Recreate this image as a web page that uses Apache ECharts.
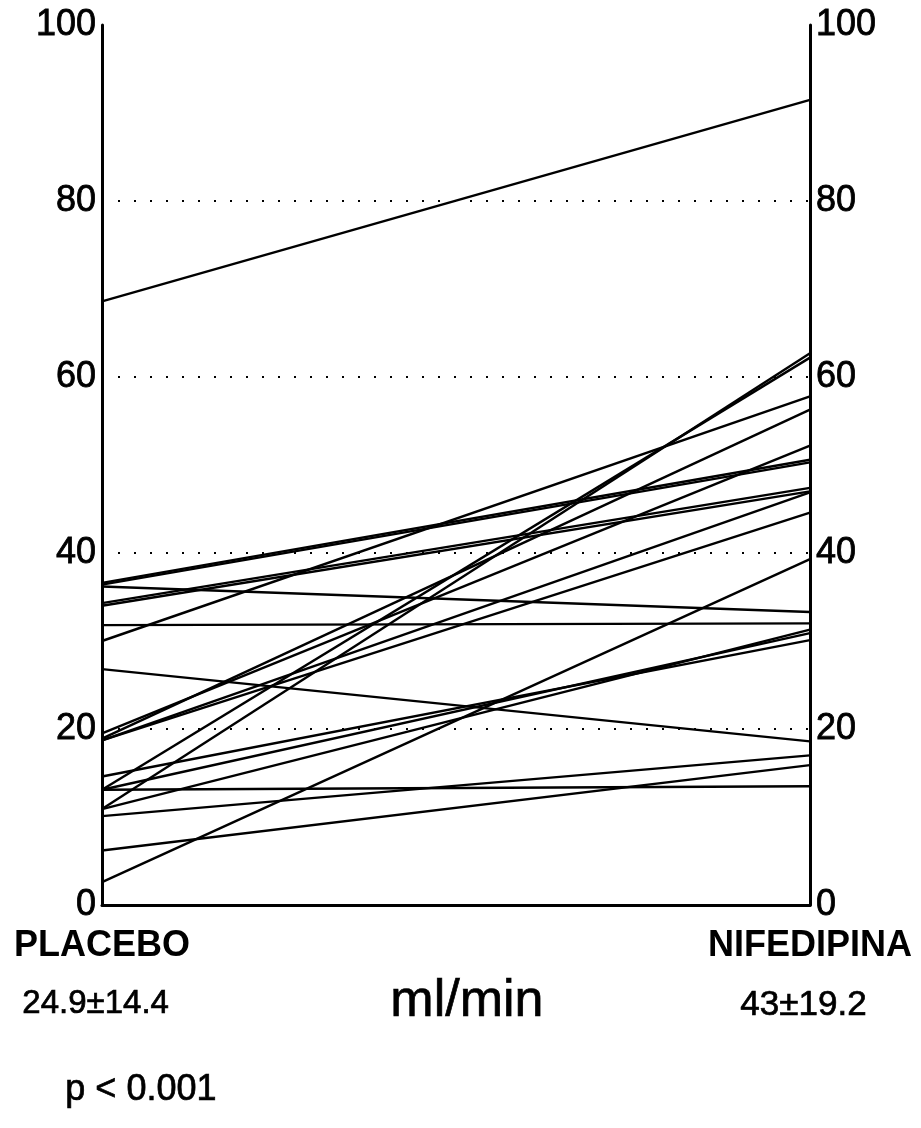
<!DOCTYPE html>
<html>
<head>
<meta charset="utf-8">
<script src="https://cdn.jsdelivr.net/npm/echarts@6/dist/echarts.min.js"></script>
<style>
  html, body { margin: 0; padding: 0; background: #fff; }
  #chart { width: 921px; height: 1128px; }
</style>
</head>
<body>
<div id="chart"></div>
<script>
// Paired measurements (ml/min) for each patient: placebo vs nifedipine
const conditions = ['PLACEBO', 'NIFEDIPINA'];
const placebo    = [68.6, 36.6, 36.4, 36.2, 34.3, 34.0, 31.8, 30.0, 26.8, 19.5, 18.9, 18.7, 18.7, 14.6, 13.1, 13.1, 13.1, 10.9, 10.9, 10.1, 6.2, 2.6];
const nifedipina = [91.5, 50.6, 50.3, 33.3, 47.4, 47.0, 32.0, 57.8, 18.6, 52.2, 56.3, 46.9, 44.6, 30.1, 62.2, 30.9, 13.5, 62.7, 31.3, 17.0, 15.9, 39.3];
const yTicks = [0, 20, 40, 60, 80, 100];
const gridValues = [20, 40, 60, 80];
const statPlacebo = '24.9\u00b114.4';
const statNifedipina = '43\u00b119.2';
const unitLabel = 'ml/min';
const pValue = 'p < 0.001';

const FONT = '"Liberation Sans", Arial, Helvetica, sans-serif';
const chart = echarts.init(document.getElementById('chart'), null, { renderer: 'canvas' });

const yAxisBase = {
  type: 'value',
  min: yTicks[0],
  max: yTicks[yTicks.length - 1],
  interval: 20,
  axisLine: { show: true, lineStyle: { color: '#000', width: 3 } },
  axisTick: { show: false },
  splitLine: { show: false },
  axisLabel: {
    color: '#000', fontSize: 36, fontFamily: FONT, margin: 6,
    textBorderColor: '#000', textBorderWidth: 0.8
  }
};

const pairSeries = placebo.map((p, i) => ({
  type: 'line',
  data: [p, nifedipina[i]],
  symbol: 'none',
  silent: true,
  lineStyle: { color: '#000', width: 2.4 },
  z: 3
}));

// dotted reference lines at the intermediate ticks
pairSeries.push({
  type: 'line',
  data: [],
  symbol: 'none',
  silent: true,
  markLine: {
    symbol: 'none',
    silent: true,
    label: { show: false },
    lineStyle: { color: '#000', width: 2.2, type: [2, 14] },
    data: gridValues.map(v => ({ yAxis: v }))
  },
  z: 1
});

const textStyle = (size) => ({
  font: size + 'px ' + FONT, fill: '#000', stroke: '#000', lineWidth: 0.7
});

chart.setOption({
  animation: false,
  backgroundColor: '#fff',
  grid: { left: 102, right: 111, top: 25, bottom: 223, containLabel: false },
  xAxis: {
    type: 'category',
    data: conditions,
    boundaryGap: false,
    axisLine: { show: true, lineStyle: { color: '#000', width: 3 } },
    axisTick: { show: false },
    splitLine: { show: false },
    axisLabel: {
      color: '#000', fontSize: 36, fontWeight: 'bold', fontFamily: FONT,
      margin: 23, interval: 0
    }
  },
  yAxis: [
    Object.assign({}, yAxisBase, { position: 'left' }),
    Object.assign({}, yAxisBase, { position: 'right' })
  ],
  series: pairSeries,
  graphic: [
    { type: 'text', left: 22, top: 987, style: Object.assign({ text: statPlacebo }, textStyle(33)) },
    { type: 'text', left: 390, top: 975, style: Object.assign({ text: unitLabel }, textStyle(52)) },
    { type: 'text', left: 740, top: 987, style: Object.assign({ text: statNifedipina }, textStyle(35)) },
    { type: 'text', left: 65, top: 1072, style: Object.assign({ text: pValue }, textStyle(36)) }
  ]
});
</script>
</body>
</html>
